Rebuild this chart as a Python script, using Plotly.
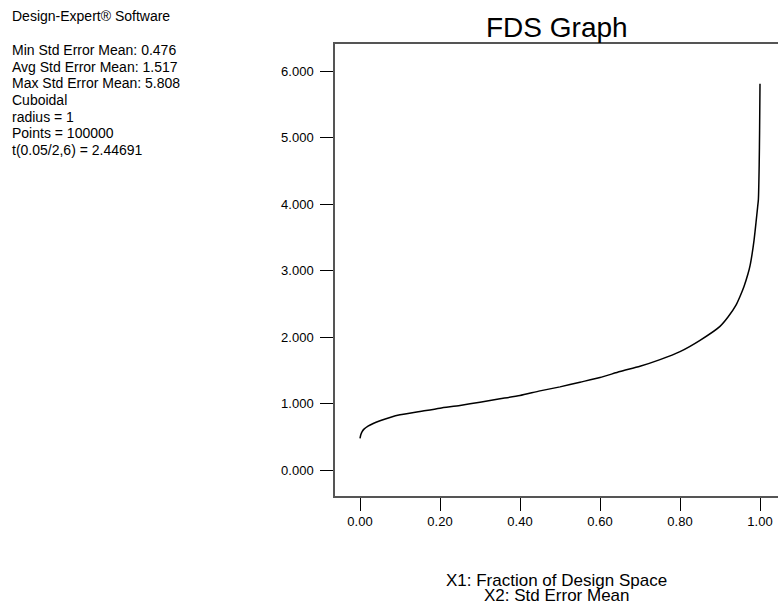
import plotly.graph_objects as go

# ---- data ----
fraction = [0.000, 0.002, 0.005, 0.010, 0.020, 0.033, 0.050, 0.075, 0.100, 0.150,
            0.200, 0.250, 0.300, 0.350, 0.400, 0.450, 0.500, 0.550, 0.600, 0.650,
            0.700, 0.750, 0.800, 0.850, 0.900, 0.920, 0.940, 0.950, 0.960, 0.970,
            0.975, 0.980, 0.985, 0.990, 0.994, 0.996, 0.998, 0.999, 1.000]
std_error = [0.476, 0.530, 0.575, 0.615, 0.660, 0.700, 0.740, 0.790, 0.830, 0.880,
             0.930, 0.970, 1.020, 1.070, 1.120, 1.190, 1.250, 1.320, 1.390, 1.480,
             1.560, 1.660, 1.780, 1.950, 2.160, 2.300, 2.480, 2.610, 2.760, 2.950,
             3.070, 3.240, 3.450, 3.720, 3.950, 4.070, 4.600, 5.100, 5.808]

x_ticks = [0.0, 0.2, 0.4, 0.6, 0.8, 1.0]
y_ticks = [0, 1, 2, 3, 4, 5, 6]

info_title = "Design-Expert® Software"
info_lines = [
    "Min Std Error Mean: 0.476",
    "Avg Std Error Mean: 1.517",
    "Max Std Error Mean: 5.808",
    "Cuboidal",
    "radius = 1",
    "Points = 100000",
    "t(0.05/2,6) = 2.44691",
]
chart_title = "FDS Graph"
axis_lines = ["X1: Fraction of Design Space", "X2: Std Error Mean"]

# ---- layout geometry ----
W, H = 778, 610
L, R, T, B = 335, 0, 44, 114
PW, PH = W - L - R, H - T - B
FONT = "Liberation Sans, Arial, sans-serif"


def px(xp):
    return (xp - L) / PW


def py(yp):
    return (H - B - yp) / PH


fig = go.Figure()
fig.add_trace(go.Scatter(x=fraction, y=std_error, mode="lines",
                         line=dict(color="black", width=1.5, shape="spline", smoothing=0.6),
                         hoverinfo="skip", showlegend=False))

ann = []
ann.append(dict(text=info_title, x=px(10), y=py(16.5), xref="paper", yref="paper",
                xanchor="left", yanchor="middle", showarrow=False,
                font=dict(family=FONT, size=14, color="black")))
for i, t in enumerate(info_lines):
    ann.append(dict(text=t, x=px(10), y=py(50 + i * 16.7), xref="paper", yref="paper",
                    xanchor="left", yanchor="middle", showarrow=False,
                    font=dict(family=FONT, size=14, color="black")))
ann.append(dict(text=chart_title, x=0.5, y=py(28), xref="paper", yref="paper",
                xanchor="center", yanchor="middle", showarrow=False,
                font=dict(family=FONT, size=28, color="black")))
for i, t in enumerate(axis_lines):
    ann.append(dict(text=t, x=0.5, y=py(580 + i * 15), xref="paper", yref="paper",
                    xanchor="center", yanchor="middle", showarrow=False,
                    font=dict(family=FONT, size=17, color="black")))

axis_common = dict(showline=True, linecolor="#555555", linewidth=1.5,
                   ticks="outside", ticklen=13, tickcolor="black", tickwidth=1,
                   showgrid=False, zeroline=False,
                   tickfont=dict(family=FONT, size=13, color="black"))

fig.update_layout(
    width=W, height=H,
    margin=dict(l=L, r=R, t=T, b=B, pad=0),
    paper_bgcolor="white", plot_bgcolor="white",
    xaxis=dict(range=[-0.0625, 1.045], tickvals=x_ticks, tickformat=".2f",
               mirror=True, **axis_common),
    yaxis=dict(range=[-0.391, 6.406], tickvals=y_ticks, tickformat=".3f",
               ticklabelstandoff=4, **axis_common),
    annotations=ann,
    showlegend=False,
)

fig.write_html("out.html", config={"displayModeBar": False},
               post_script="document.body.style.margin='0';document.body.style.overflow='hidden';")
